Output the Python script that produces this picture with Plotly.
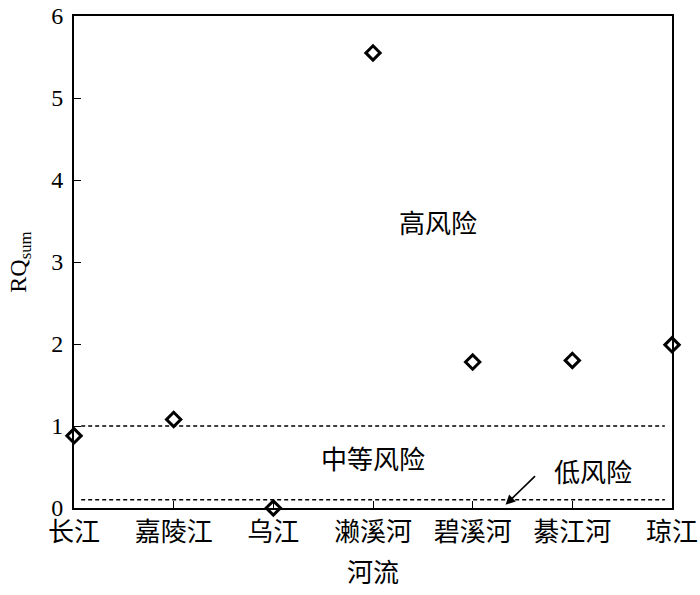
import plotly.graph_objects as go

rivers = ["长江", "嘉陵江", "乌江", "濑溪河", "碧溪河", "綦江河", "琼江"]
rq_sum = [0.88, 1.08, 0.0, 5.55, 1.78, 1.80, 1.99]
y_ticks = [0, 1, 2, 3, 4, 5, 6]
thresholds = [1.0, 0.1]

cjk = "Noto Sans CJK SC"
serif = "Liberation Serif"

fig = go.Figure()
fig.add_trace(go.Scatter(
    x=rivers, y=rq_sum, mode="markers",
    marker=dict(symbol="diamond-open", size=11, color="black",
                line=dict(width=3, color="black")),
    showlegend=False, cliponaxis=False,
))

for t in thresholds:
    fig.add_shape(type="line", xref="paper", yref="y", x0=0.012, x1=0.988,
                  y0=t, y1=t, line=dict(color="black", width=1.5, dash="4px,3px"))

fig.add_annotation(x=3.65, y=3.5, text="高风险", showarrow=False,
                   font=dict(family=cjk, size=26, color="black"))
fig.add_annotation(x=3.0, y=0.61, text="中等风险", showarrow=False,
                   font=dict(family=cjk, size=26, color="black"))
fig.add_annotation(x=5.21, y=0.46, text="低风险", showarrow=False,
                   font=dict(family=cjk, size=26, color="black"))
fig.add_annotation(x=4.33, y=0.04, text="", showarrow=True, ax=31, ay=-30,
                   arrowhead=2, arrowsize=1.2, arrowwidth=1.6, arrowcolor="black")

fig.update_layout(
    width=700, height=595,
    margin=dict(l=74, r=28, t=16, b=87),
    plot_bgcolor="white", paper_bgcolor="white",
    xaxis=dict(type="category", range=[0, 6], showgrid=False, zeroline=False,
               automargin=False,
               showline=True, linecolor="black", linewidth=2, mirror=True,
               ticks="inside", ticklen=7, tickwidth=1.3, tickcolor="black",
               tickfont=dict(family=cjk, size=26, color="black"),
               title=dict(text="河流", font=dict(family=cjk, size=26, color="black"),
                          standoff=17)),
    yaxis=dict(range=[0, 6], tickvals=y_ticks, showgrid=False, zeroline=False,
               automargin=False, ticklabelstandoff=4,
               showline=True, linecolor="black", linewidth=2, mirror=True,
               ticks="inside", ticklen=7, tickwidth=1.3, tickcolor="black",
               tickfont=dict(family=serif, size=24, color="black"),
               title=dict(text="RQ<sub>sum</sub>",
                          font=dict(family=serif, size=24, color="black"),
                          standoff=18)),
)

fig.write_html("out.html", config={"displayModeBar": False},
               post_script="document.body.style.margin='0';")
